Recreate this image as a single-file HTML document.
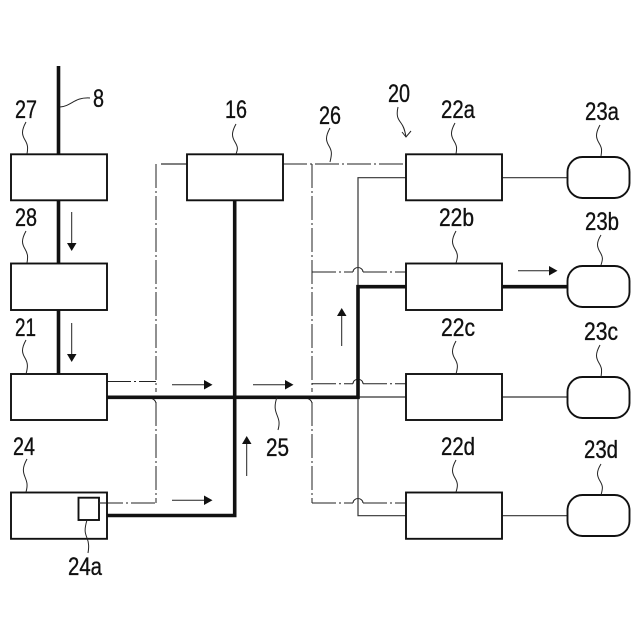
<!DOCTYPE html>
<html><head><meta charset="utf-8"><style>
html,body{margin:0;padding:0;background:#fff}
svg{display:block}
text{font-family:"Liberation Sans",sans-serif;font-size:25px;fill:#111;stroke:#111;stroke-width:.35}
.b{fill:#fff;stroke:#111;stroke-width:1.9}
.t{fill:none;stroke:#111;stroke-width:3.6}
.n{fill:none;stroke:#333;stroke-width:1.2}
.d{fill:none;stroke:#222;stroke-width:1;stroke-dasharray:24 3 2 3}
.l{fill:none;stroke:#222;stroke-width:1}
.a{fill:none;stroke:#222;stroke-width:1}
</style></head><body>
<svg width="640" height="640" viewBox="0 0 640 640" xmlns="http://www.w3.org/2000/svg">
<rect width="640" height="640" fill="#fff"/>

<!-- dash-dot lines -->
<g class="d">
<path d="M156 164V392"/>
<path d="M156 402V503"/>
<path d="M312 164V392"/>
<path d="M312 402V503"/>
<path d="M283 164H406"/>
<path d="M107 381.500H156"/>
<path d="M99 503H156"/>
<path d="M312 272H353"/>
<path d="M363 272H406"/>
<path d="M312 383.700H353"/>
<path d="M363 383.700H406"/>
<path d="M312 503H353"/>
<path d="M363 503H406"/>
</g>
<path d="M161 164H187" class="n"/>
<g class="l">
<path d="M353 272a5 4.500 0 0 1 10 0"/>
<path d="M353 383.700a5 4.500 0 0 1 10 0"/>
<path d="M353 503a5 4.500 0 0 1 10 0"/>
<path d="M150 398q5 1 6 5"/>
<path d="M306 398q5 1 6 5"/>
</g>

<!-- thin lines -->
<g class="n">
<path d="M406 177.700H358V515.700H406"/>
<path d="M358 397H406"/>
<path d="M502 177.700H567"/>
<path d="M502 397H567"/>
<path d="M502 515.700H567"/>
</g>

<!-- thick lines -->
<g class="t">
<path d="M58.500 66V374"/>
<path d="M234.700 200V515.500H107"/>
<path d="M107 397.300H358V286.700H406"/>
<path d="M502 286.700H567"/>
</g>

<!-- boxes -->
<rect class="b" x="11" y="154.300" width="96" height="46"/>
<rect class="b" x="11" y="263.500" width="96" height="46.500"/>
<rect class="b" x="11" y="374" width="96" height="46"/>
<rect class="b" x="11" y="492.500" width="96" height="46.300"/>
<rect class="b" x="78.500" y="497.700" width="20.500" height="22.300"/>
<rect class="b" x="187" y="154.300" width="96" height="46"/>
<rect class="b" x="406" y="154.300" width="96" height="46"/>
<rect class="b" x="406" y="263.500" width="96" height="46.500"/>
<rect class="b" x="406" y="374" width="96" height="46"/>
<rect class="b" x="406" y="492.500" width="96" height="46.300"/>
<path d="M99 503H106" class="n"/>
<rect class="b" x="567.500" y="157" width="62" height="41" rx="15"/>
<rect class="b" x="567.500" y="266" width="62" height="41" rx="15"/>
<rect class="b" x="567.500" y="377" width="62" height="41" rx="15"/>
<rect class="b" x="567.500" y="495" width="62" height="41" rx="15"/>

<!-- arrows -->
<g class="a">
<path d="M71.700 212V243"/><path d="M71.700 323V354"/>
<path d="M172 384.700H204"/><path d="M253 384.700H285"/>
<path d="M172 500.300H204"/><path d="M246.700 444V476"/>
<path d="M341.700 316V346"/><path d="M518 270.700H549"/>
</g>
<g fill="#111">
<path d="M67 243h9.500l-4.800 8z"/><path d="M67 354h9.500l-4.800 8z"/>
<path d="M204 380v9.500l8.500-4.800z"/><path d="M285 380v9.500l8.500-4.800z"/>
<path d="M204 495.500v9.500l8.500-4.800z"/>
<path d="M242 444h9.500l-4.800-8z"/><path d="M337 316h9.500l-4.800-8z"/>
<path d="M549 266v9.500l8.500-4.800z"/>
</g>

<!-- leaders -->
<g class="l">
<path d="M60 107C72 106 74 97 90 98"/>
<path d="M26 122C21 131 22 135 25 140S28 148 27 154"/>
<path d="M26 231C21 240 22 244 25 249S28 257 27 263"/>
<path d="M26 340C21 349 22 353 25 358S28 367 26 374"/>
<path d="M27 459C22 468 23 472 25 477S28 485 26 492"/>
<path d="M87 520C84 530 85 533 87 538S89 547 88 553"/>
<path d="M277 397C274 406 275 410 277 415S280 423 278 430"/>
<path d="M236 124C231 133 232 137 235 142S238 149 236 154"/>
<path d="M330 128C325 137 326 141 329 146S332 154 330 162"/>
<path d="M455 123C450 132 451 136 454 141S457 148 456 154"/>
<path d="M456 231C451 240 452 244 455 249S458 257 456 263"/>
<path d="M456 341C451 350 452 354 455 359S458 367 456 374"/>
<path d="M456 460C451 469 452 473 455 478S458 486 456 492"/>
<path d="M600 125C595 134 596 138 599 143S602 150 601 156"/>
<path d="M601 235C596 243 597 247 600 252S603 259 601 265"/>
<path d="M600 345C595 354 596 358 599 363S602 370 601 377"/>
<path d="M601 464C596 472 597 476 600 481S603 488 601 495"/>
<path d="M398 107C396 116 398 119 401 123S405 131 406 137"/>
<path d="M402 132L406 137L411 131"/>
</g>

<!-- labels -->
<g>
<text x="93" y="107" textLength="11" lengthAdjust="spacingAndGlyphs">8</text>
<text x="15" y="118" textLength="22" lengthAdjust="spacingAndGlyphs">27</text>
<text x="225" y="118" textLength="22" lengthAdjust="spacingAndGlyphs">16</text>
<text x="15" y="226" textLength="22" lengthAdjust="spacingAndGlyphs">28</text>
<text x="15" y="336" textLength="21" lengthAdjust="spacingAndGlyphs">21</text>
<text x="13" y="455" textLength="22" lengthAdjust="spacingAndGlyphs">24</text>
<text x="68" y="575" textLength="34" lengthAdjust="spacingAndGlyphs">24a</text>
<text x="266" y="456" textLength="23" lengthAdjust="spacingAndGlyphs">25</text>
<text x="319" y="124" textLength="22" lengthAdjust="spacingAndGlyphs">26</text>
<text x="388" y="102" textLength="22" lengthAdjust="spacingAndGlyphs">20</text>
<text x="441" y="118" textLength="34" lengthAdjust="spacingAndGlyphs">22a</text>
<text x="585" y="120" textLength="34" lengthAdjust="spacingAndGlyphs">23a</text>
<text x="439" y="226" textLength="35" lengthAdjust="spacingAndGlyphs">22b</text>
<text x="585" y="230" textLength="34" lengthAdjust="spacingAndGlyphs">23b</text>
<text x="441" y="336" textLength="34" lengthAdjust="spacingAndGlyphs">22c</text>
<text x="584" y="340" textLength="34" lengthAdjust="spacingAndGlyphs">23c</text>
<text x="441" y="455" textLength="34" lengthAdjust="spacingAndGlyphs">22d</text>
<text x="584" y="458" textLength="34" lengthAdjust="spacingAndGlyphs">23d</text>
</g>
</svg>
</body></html>
